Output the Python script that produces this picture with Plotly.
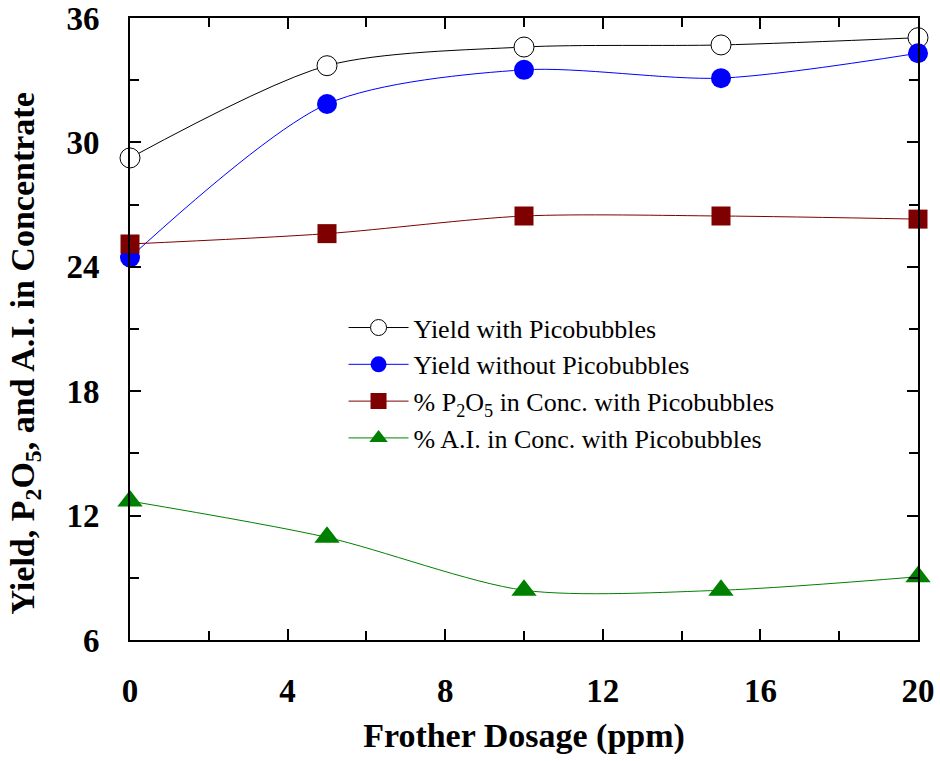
import plotly.graph_objects as go

# Frother dosage (ppm)
dosage = [0, 5, 10, 15, 20]

# Measured responses at each dosage
yield_with_pico = [29.25, 33.7, 34.6, 34.7, 35.05]
yield_without_pico = [24.45, 31.85, 33.5, 33.1, 34.3]
p2o5_with_pico = [25.1, 25.6, 26.45, 26.45, 26.3]
ai_with_pico = [12.7, 10.95, 8.4, 8.4, 9.05]

series_names = [
    "Yield with Picobubbles",
    "Yield without Picobubbles",
    "% P<sub>2</sub>O<sub>5</sub> in Conc. with Picobubbles",
    "% A.I. in Conc. with Picobubbles",
]

x_ticks = [0, 4, 8, 12, 16, 20]
y_ticks = [6, 12, 18, 24, 30, 36]

x_title = "Frother Dosage (ppm)"
y_title = "Yield, P<sub>2</sub>O<sub>5</sub>, and A.I. in Concentrate"

font_family = "Liberation Serif"

fig = go.Figure()

styles = [
    dict(values=yield_with_pico, line="black", marker=dict(symbol="circle", size=20, color="white",
                                                           line=dict(color="black", width=1))),
    dict(values=yield_without_pico, line="blue", marker=dict(symbol="circle", size=20, color="blue",
                                                             line=dict(color="blue", width=0))),
    dict(values=p2o5_with_pico, line="#7f0000", marker=dict(symbol="square", size=19, color="#7f0000",
                                                            line=dict(width=0))),
    dict(values=ai_with_pico, line="green", marker=dict(symbol="triangle-up", size=22, color="green",
                                                        line=dict(width=0))),
]

for name, st in zip(series_names, styles):
    fig.add_trace(go.Scatter(
        x=dosage, y=st["values"], name=name, mode="lines+markers",
        line=dict(color=st["line"], width=1, shape="spline", smoothing=0.8),
        marker=st["marker"], cliponaxis=False,
    ))

axis_common = dict(
    showline=True, linecolor="black", linewidth=2, mirror="allticks",
    ticks="inside", tickcolor="black", tickwidth=1.5, ticklen=11,
    showgrid=False, zeroline=False, automargin=False,
    tickfont=dict(family=font_family, size=33, color="black", weight="bold"),
)

fig.update_xaxes(
    range=[0, 20], tickvals=x_ticks, ticktext=[str(v) for v in x_ticks],
    minor=dict(dtick=2, tick0=0, ticks="inside", ticklen=9, tickcolor="black", tickwidth=1.5),
    ticklabelstandoff=20,
    title=dict(text=x_title, standoff=16,
               font=dict(family=font_family, size=34, color="black", weight="bold")),
    **axis_common,
)
fig.update_yaxes(
    range=[6, 36], tickvals=y_ticks, ticktext=[str(v) for v in y_ticks],
    minor=dict(dtick=3, tick0=6, ticks="inside", ticklen=9, tickcolor="black", tickwidth=1.5),
    ticklabelstandoff=22,
    **axis_common,
)

# Vertical axis title, placed as an annotation so its centre can be set freely
fig.add_annotation(
    text=y_title, textangle=-90, showarrow=False,
    xref="paper", yref="paper", x=-0.133, y=0.461, xanchor="center", yanchor="middle",
    font=dict(family=font_family, size=34, color="black", weight="bold"),
)

fig.update_layout(
    width=940, height=761,
    margin=dict(l=130, r=22, t=18, b=121),
    paper_bgcolor="white", plot_bgcolor="white",
    showlegend=True,
    legend=dict(
        x=0.271, y=0.54, xanchor="left", yanchor="top",
        bgcolor="rgba(0,0,0,0)", borderwidth=0,
        font=dict(family=font_family, size=26, color="black"),
        itemwidth=60, tracegroupgap=0,
    ),
)

fig.write_html("out.html")
